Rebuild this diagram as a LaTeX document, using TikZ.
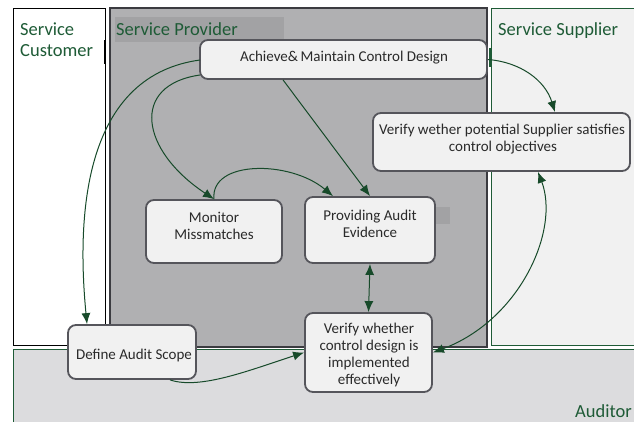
\documentclass[tikz,border=0pt]{standalone}
\usepackage{fontspec}
\setmainfont{Carlito}
\usetikzlibrary{arrows.meta}
\definecolor{lanegreen}{HTML}{1E5B36}
\definecolor{arrgreen}{HTML}{174A2A}
\definecolor{provgray}{HTML}{B0B0B2}
\definecolor{provdark}{HTML}{A2A2A4}
\definecolor{suppgray}{HTML}{F1F1F1}
\definecolor{audgray}{HTML}{DCDCDE}
\definecolor{boxfill}{HTML}{F1F1F1}
\definecolor{boxedge}{HTML}{55555B}
\definecolor{txt}{HTML}{2A2A2A}
\tikzset{
  lanetitle/.style={font=\fontsize{18.5}{21}\selectfont, text=lanegreen, inner sep=0pt},
  procbox/.style={draw=boxedge, line width=1.8pt, fill=boxfill, rounded corners=8pt},
  boxtext/.style={align=center, font=\fontsize{15}{17}\selectfont, text=txt, inner sep=0pt},
  flow/.style={draw=arrgreen, line width=1pt, -{Latex[length=11pt,width=9pt]}},
  flowboth/.style={draw=arrgreen, line width=1pt, {Latex[length=11pt,width=9pt]}-{Latex[length=11pt,width=9pt]}}
}
\begin{document}
\begin{tikzpicture}[x=1pt,y=-1pt]
\useasboundingbox (0,0) rectangle (634,422);
\fill[white] (0,0) rectangle (634,422);
% lanes
\draw[black, line width=0.8pt, fill=white] (13,8) rectangle (105,345);
\draw[boxedge!70!black, line width=1.2pt, fill=provgray] (110,8) rectangle (487,347);
\fill[provdark] (115,17) rectangle (284,42);
\fill[provdark] (435,207) rectangle (450,224);
\draw[lanegreen, line width=0.8pt, fill=suppgray] (491,8) rectangle (640,345);
\draw[lanegreen, line width=0.8pt, fill=audgray] (13,349) rectangle (640,422);
% small boundary marks
\draw[black, line width=2pt] (104.5,40) -- (104.5,64);
\draw[black, line width=2pt] (486.5,48) -- (486.5,67);
\draw[lanegreen, line width=2pt] (490,48) -- (490,67);
% lane titles
\node[lanetitle, anchor=north west, align=left] (cust) at (20,23) {Service\\Customer};
\node[lanetitle, anchor=base west] (prov) at (116,36) {Service Provider};
\node[lanetitle, anchor=base west] (supp) at (498,36) {Service Supplier};
\node[lanetitle, anchor=base east] (aud) at (632,417) {Auditor};
% process boxes
\node[procbox, minimum width=287pt, minimum height=39pt] (achieve) at (343.5,59.5) {};
\node[procbox, minimum width=257pt, minimum height=58pt] (vsupp) at (501.5,142) {};
\node[procbox, minimum width=136pt, minimum height=63pt] (monitor) at (214,231.5) {};
\node[procbox, minimum width=130pt, minimum height=66pt] (provide) at (370,230) {};
\node[procbox, minimum width=128pt, minimum height=54pt] (scope) at (132,352) {};
\node[procbox, minimum width=127pt, minimum height=79pt] (vctrl) at (368.5,352.5) {};
% box texts
\node[boxtext] (achieveT) at (344,58) {Achieve\&\,Maintain Control Design};
\node[boxtext, anchor=west] (vsuppT1) at (379,131) {Verify wether potential Supplier satisfies};
\node[boxtext] (vsuppT2) at (503,148) {control objectives};
\node[boxtext] (monitorT) at (214,225.5) {Monitor\\Missmatches};
\node[boxtext] (provideT) at (370,223.5) {Providing Audit\\Evidence};
\node[boxtext] (scopeT) at (134,355) {Define Audit Scope};
\node[boxtext] (vctrlT) at (369,355) {Verify whether\\control design is\\implemented\\effectively};
% connectors
\coordinate (a1) at (200,60);
\coordinate (a2) at (200,75);
\draw[flow] (a1) .. controls (90,75) and (75,200) .. (scope.north west -| 87,0);
\draw[flow] (a2) .. controls (130,85) and (140,150) .. (monitor.north);
\draw[flow] (monitor.north) .. controls (210,160) and (290,160) .. (provide.north west -| 333,0);
\draw[flow] (achieve.south west -| 283,0) -- (provide.north);
\draw[flow] (achieve.east) .. controls (520,62) and (545,80) .. (vsupp.north -| 555,0);
\draw[flowboth] (provide.south) -- (vctrl.north);
\draw[flowboth] (vsupp.south -| 538,0) .. controls (560,230) and (520,320) .. (vctrl.east);
\draw[flow] (scope.south -| 170,0) .. controls (200,390) and (250,370) .. (vctrl.west);
\end{tikzpicture}
\end{document}
